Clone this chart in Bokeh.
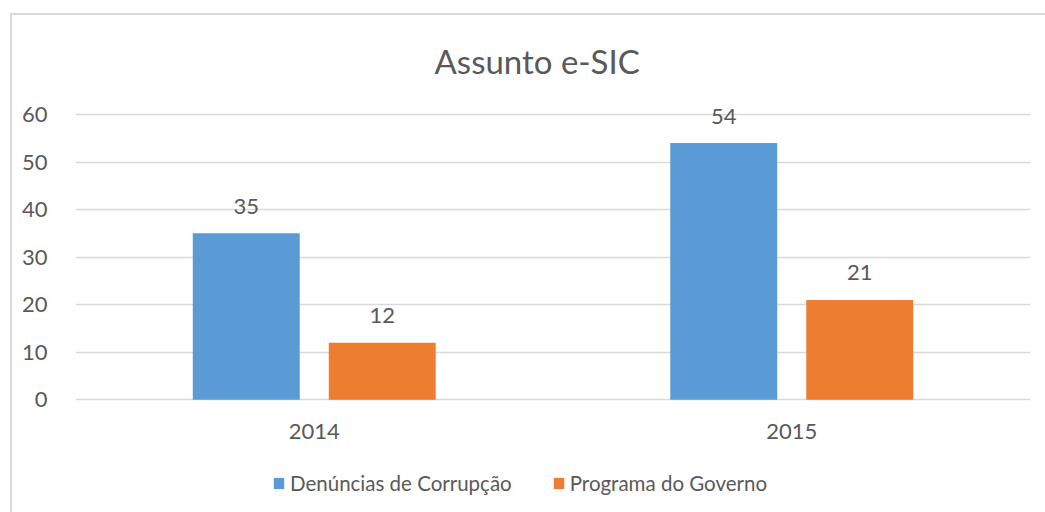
from bokeh.plotting import figure
from bokeh.models import (ColumnDataSource, FactorRange, Range1d, FixedTicker,
                          Legend, LegendItem)
from bokeh.transform import dodge
from bokeh.core.properties import value
from bokeh.embed import file_html
from bokeh.resources import INLINE

years = ["2014", "2015"]
denuncias = [35, 54]
programa = [12, 21]
series_names = ["Denúncias de Corrupção", "Programa do Governo"]
y_ticks = [0, 10, 20, 30, 40, 50, 60]
title_text = "Assunto e-SIC"

BLUE = "#5b9bd5"
ORANGE = "#ed7d31"
TXT = "#595959"
GRID = "#d9d9d9"
FONT = "Lato"

src = ColumnDataSource(dict(
    year=years,
    zero=[0] * len(years),
    den=denuncias,
    prog=programa,
    den_lbl=[str(v) for v in denuncias],
    prog_lbl=[str(v) for v in programa],
))

# frame spans down to the canvas bottom so the legend / category labels are not clipped
p = figure(width=1035, height=499,
           x_range=FactorRange(*years), y_range=Range1d(-24.13, 62.1),
           output_backend="svg", toolbar_location=None,
           min_border_left=63, min_border_right=17,
           min_border_top=88, min_border_bottom=0)
p.margin = (13, 0, 0, 10)
p.styles = {"border-top": "2px solid #d9d9d9", "border-left": "2px solid #d9d9d9"}

p.title.text = title_text
p.title.align = "left"
p.title.text_font = FONT
p.title.text_font_size = "33px"
p.title.text_font_style = "normal"
p.title.text_color = TXT
p.title.standoff = 47
p.title.offset = 359

off = 0.1424
bw = 0.224
r1 = p.vbar(x=dodge("year", -off, range=p.x_range), top="den", width=bw,
            source=src, fill_color=BLUE, line_color=None)
r2 = p.vbar(x=dodge("year", off, range=p.x_range), top="prog", width=bw,
            source=src, fill_color=ORANGE, line_color=None)

for xo, col in ((-off, "den"), (off, "prog")):
    p.text(x=dodge("year", xo, range=p.x_range), y=col, text=col + "_lbl",
           source=src, text_align="center", text_baseline="alphabetic",
           y_offset=-27, text_font=value(FONT), text_font_size="22px",
           text_color=TXT)

# category labels under the zero line
p.text(x="year", y="zero", text="year", source=src, text_align="center",
       text_baseline="middle", y_offset=32, text_font=value(FONT),
       text_font_size="22px", text_color=TXT)

p.xgrid.visible = False
p.ygrid.ticker = FixedTicker(ticks=y_ticks)
p.ygrid.grid_line_color = GRID
p.ygrid.grid_line_width = 1.5
p.outline_line_color = None

p.xaxis.visible = False
p.yaxis.ticker = FixedTicker(ticks=y_ticks)
p.yaxis.axis_line_color = None
p.yaxis.major_tick_line_color = None
p.yaxis.minor_tick_line_color = None
p.yaxis.major_label_standoff = 22
p.yaxis.major_label_text_font = FONT
p.yaxis.major_label_text_font_size = "22px"
p.yaxis.major_label_text_color = TXT

legend = Legend(items=[LegendItem(label=series_names[0], renderers=[r1]),
                       LegendItem(label=series_names[1], renderers=[r2])],
                orientation="horizontal", location=(197, 19),
                padding=0, spacing=40, label_standoff=5,
                glyph_width=13, glyph_height=14, margin=0,
                label_text_font=FONT, label_text_font_size="20.5px",
                label_text_color=TXT, border_line_color=None,
                background_fill_alpha=0)
p.add_layout(legend, "center")

open("out.html", "w").write(file_html(p, INLINE))
